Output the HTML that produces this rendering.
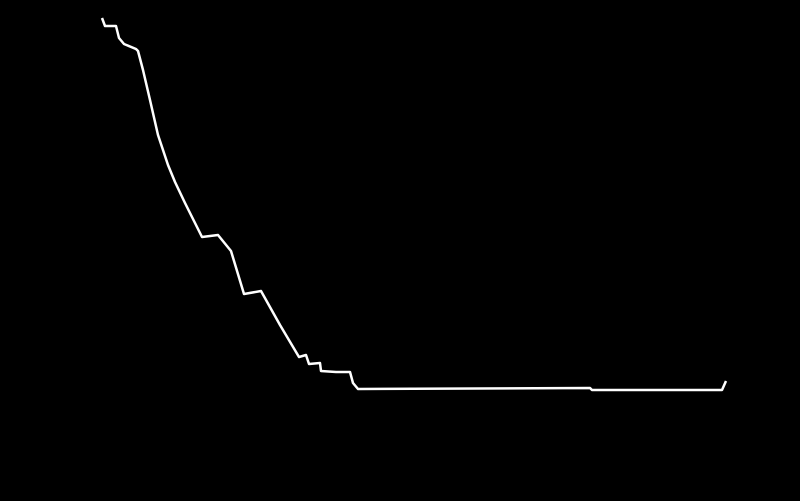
<!DOCTYPE html>
<html><head><meta charset="utf-8"><style>
html,body{margin:0;padding:0;background:#000;}
svg{display:block;}
</style></head><body>
<svg width="800" height="501" viewBox="0 0 800 501">
<rect x="0" y="0" width="800" height="501" fill="#000"/>
<g id="plot"></g>
</svg>
<script>
const xValues = [0,3,14,17,22,34,36,41,48,56,66,73,83,100,116,129,142,159,178,197,204,207,218,219,234,248,251,256,488,490,620,624];
const yValues = [382,374,374,362,356,351,349,330,300,265,235,218,197,163,165,149,106,109,75,43,45,36,37,29,28,28,17,11,12,10,10,19];
const xScale = v => 102 + (v - 0) * (624 / 624);
const yScale = v => 400 - v;
const g = document.getElementById('plot');
const pts = xValues.map((x,i) => xScale(x).toFixed(1) + ',' + yScale(yValues[i]).toFixed(1)).join(' ');
const line = document.createElementNS('http://www.w3.org/2000/svg','polyline');
line.setAttribute('points', pts);
line.setAttribute('fill','none');
line.setAttribute('stroke','#fff');
line.setAttribute('stroke-width','2.5');
line.setAttribute('stroke-linejoin','round');


g.appendChild(line);
</script>
</body></html>
